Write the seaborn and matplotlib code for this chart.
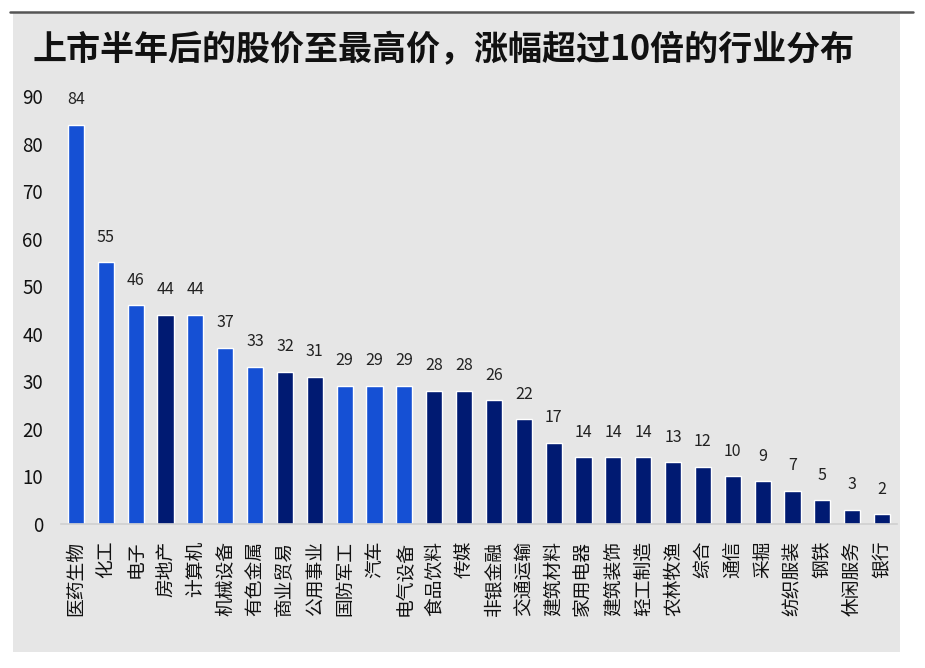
import matplotlib
matplotlib.use("Agg")
import matplotlib.pyplot as plt
import seaborn as sns
from matplotlib.patches import Rectangle
from matplotlib.lines import Line2D

industries = ["医药生物", "化工", "电子", "房地产", "计算机", "机械设备", "有色金属",
              "商业贸易", "公用事业", "国防军工", "汽车", "电气设备", "食品饮料", "传媒",
              "非银金融", "交通运输", "建筑材料", "家用电器", "建筑装饰", "轻工制造",
              "农林牧渔", "综合", "通信", "采掘", "纺织服装", "钢铁", "休闲服务", "银行"]
counts = [84, 55, 46, 44, 44, 37, 33, 32, 31, 29, 29, 29, 28, 28,
          26, 22, 17, 14, 14, 14, 13, 12, 10, 9, 7, 5, 3, 2]
highlight = [1, 1, 1, 0, 1, 1, 1, 0, 0, 1, 1, 1, 0, 0,
             0, 0, 0, 0, 0, 0, 0, 0, 0, 0, 0, 0, 0, 0]
yticks = list(range(0, 100, 10))
title = "上市半年后的股价至最高价，涨幅超过10倍的行业分布"

LIGHT = "#1550d4"
DARK = "#001a72"
colors = [LIGHT if h else DARK for h in highlight]

sns.set_theme(style="white")
plt.rcParams["font.family"] = ["Noto Sans CJK SC", "DejaVu Sans"]

fig = plt.figure(figsize=(9.25, 6.68), dpi=100)
W, H = 925, 668

# grey panel + top rule
fig.patches.append(Rectangle((13 / W, 1 - 652 / H), (900 - 13) / W, (652 - 13) / H,
                             transform=fig.transFigure, facecolor="#e6e6e6",
                             edgecolor="none", zorder=-10))
fig.lines.append(Line2D([10 / W, 913 / W], [1 - 12 / H, 1 - 12 / H],
                        transform=fig.transFigure, color="#555555", lw=1.8))

ax = fig.add_axes([61 / W, 1 - 524 / H, (897 - 61) / W, (524 - 96) / H])
ax.set_facecolor("none")

sns.barplot(x=industries, y=counts, hue=industries, palette=colors,
            legend=False, width=0.54, saturation=1, ax=ax)

for c in ax.containers:
    ax.bar_label(c, padding=12, fontsize=11.5, color="#222222")

ax.set_ylim(0, 90)
ax.set_xlim(-0.5, len(industries) - 0.5)
ax.set_yticks(yticks)
ax.tick_params(axis="y", length=0, pad=13, labelsize=13.5, labelcolor="#111111")
ax.tick_params(axis="x", length=0, pad=12, labelsize=13.5, labelcolor="#111111",
               rotation=90)
ax.set_xlabel("")
ax.set_ylabel("")
for side in ["top", "right", "left"]:
    ax.spines[side].set_visible(False)
ax.spines["bottom"].set_color("#d0d0d0")
ax.spines["bottom"].set_linewidth(1.2)

fig.text(33 / W, 1 - 50 / H, title, fontsize=24.5, fontweight="bold",
         ha="left", va="center", color="#111111")

fig.savefig("out.png", dpi=100)
